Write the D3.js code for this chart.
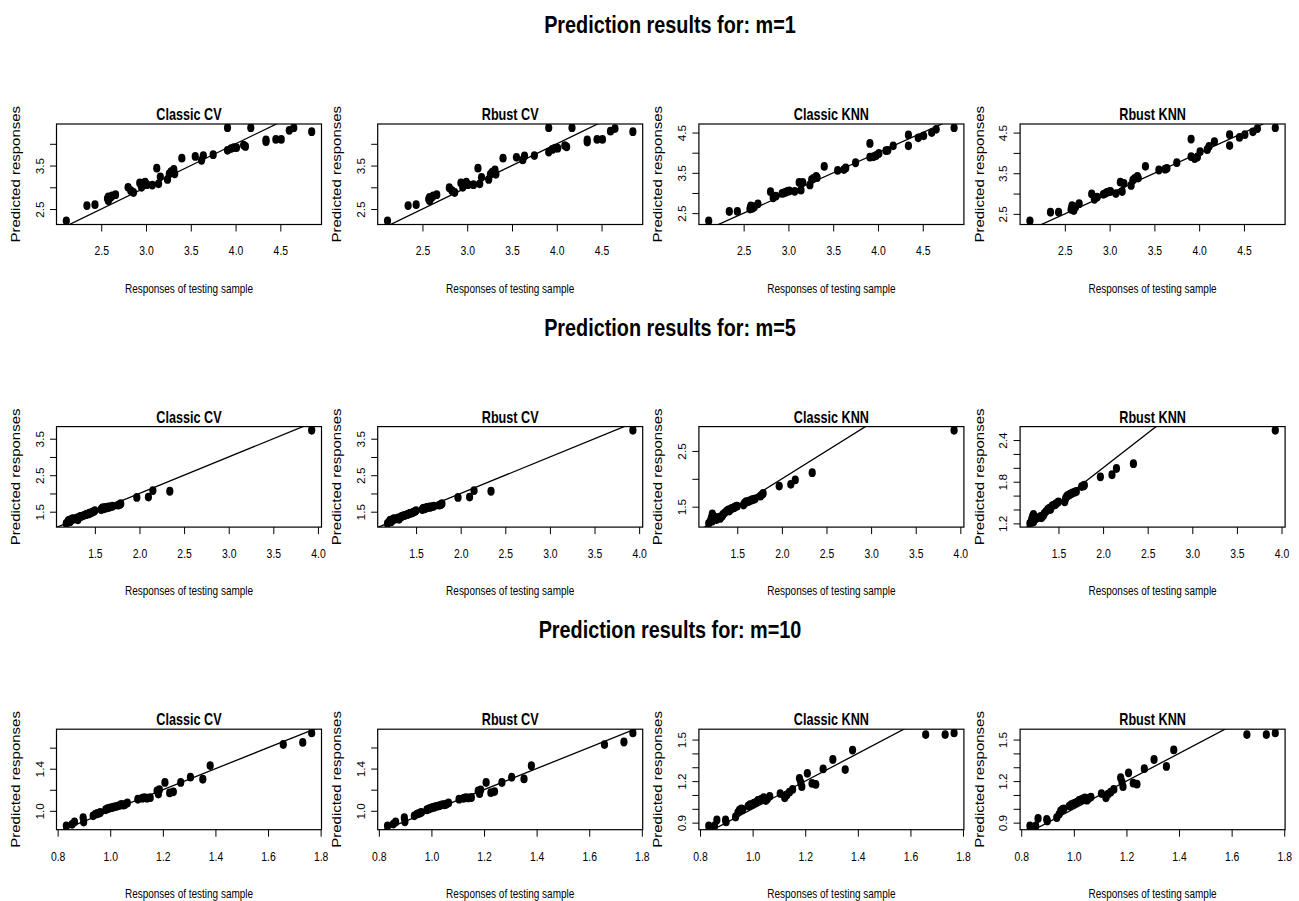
<!DOCTYPE html>
<html><head><meta charset="utf-8">
<script src="https://cdnjs.cloudflare.com/ajax/libs/d3/7.8.5/d3.min.js"></script>
<style>body{margin:0;background:#fff}svg{display:block}</style>
</head><body>
<svg id="c" width="1299" height="901"></svg>
<script>
// ---------- data ----------
const rowTitles = ["Prediction results for: m=1", "Prediction results for: m=5", "Prediction results for: m=10"];
const methods = ["Classic CV", "Rbust CV", "Classic KNN", "Rbust KNN"];
const xLabel = "Responses of testing sample";
const yLabel = "Predicted responses";

// m = 1
const m1_test = [2.11,2.34,2.43,2.57,2.58,2.58,2.60,2.62,2.66,2.80,2.83,2.86,2.93,2.95,2.97,2.99,3.01,3.07,3.12,3.14,3.16,3.24,3.26,3.28,3.31,3.32,3.40,3.55,3.62,3.64,3.75,3.91,3.91,3.95,3.98,4.01,4.09,4.11,4.17,4.34,4.34,4.45,4.51,4.60,4.65,4.85];
const m1_classicCV = [2.23,2.58,2.60,2.74,2.69,2.78,2.76,2.80,2.83,3.00,2.92,2.88,3.10,3.00,3.08,3.12,3.06,3.05,3.44,3.08,3.24,3.18,3.31,3.36,3.41,3.31,3.67,3.71,3.62,3.73,3.75,4.37,3.85,3.89,3.91,3.91,3.97,3.94,4.37,4.09,4.05,4.10,4.10,4.31,4.37,4.28];
const m1_robustCV = [2.23,2.58,2.60,2.73,2.69,2.77,2.76,2.80,2.83,2.99,2.92,2.88,3.10,3.00,3.08,3.12,3.06,3.06,3.44,3.08,3.23,3.18,3.30,3.35,3.40,3.30,3.67,3.69,3.63,3.72,3.73,4.37,3.81,3.87,3.90,3.90,3.96,3.93,4.37,4.09,4.04,4.10,4.10,4.29,4.35,4.28];
const m1_classicKNN = [2.31,2.54,2.54,2.60,2.65,2.68,2.62,2.66,2.73,3.03,2.88,2.92,2.99,3.00,3.02,3.04,3.05,3.04,3.26,3.07,3.26,3.20,3.33,3.36,3.41,3.38,3.66,3.56,3.58,3.62,3.75,4.23,3.89,3.90,3.93,3.98,4.05,4.06,4.17,4.44,4.17,4.37,4.42,4.50,4.58,4.62];
const m1_robustKNN = [2.33,2.54,2.54,2.61,2.66,2.70,2.58,2.67,2.75,2.99,2.86,2.91,2.98,3.00,3.03,3.04,3.05,3.00,3.28,3.05,3.25,3.20,3.33,3.37,3.42,3.38,3.67,3.58,3.60,3.62,3.76,4.34,3.91,3.86,3.90,4.03,4.08,4.16,4.28,4.45,4.18,4.38,4.45,4.52,4.60,4.62];

// m = 5
const m5_test = [1.18,1.20,1.21,1.22,1.22,1.23,1.24,1.25,1.27,1.30,1.31,1.33,1.34,1.36,1.38,1.40,1.41,1.43,1.44,1.46,1.47,1.49,1.50,1.57,1.58,1.59,1.60,1.62,1.63,1.65,1.66,1.68,1.70,1.76,1.78,1.79,1.97,2.10,2.15,2.34,3.93];
const m5_classicCV = [1.18,1.24,1.27,1.22,1.26,1.25,1.29,1.31,1.30,1.33,1.28,1.36,1.37,1.38,1.40,1.42,1.43,1.44,1.46,1.47,1.49,1.51,1.53,1.56,1.59,1.61,1.58,1.62,1.60,1.63,1.62,1.64,1.65,1.68,1.70,1.72,1.89,1.90,2.08,2.06,3.73];
const m5_robustCV = [1.18,1.23,1.27,1.22,1.26,1.25,1.28,1.31,1.30,1.33,1.29,1.36,1.37,1.39,1.40,1.42,1.43,1.45,1.46,1.47,1.49,1.51,1.53,1.56,1.59,1.60,1.58,1.62,1.61,1.63,1.62,1.64,1.65,1.68,1.70,1.72,1.89,1.90,2.08,2.06,3.73];
const m5_classicKNN = [1.20,1.25,1.30,1.37,1.24,1.33,1.28,1.31,1.27,1.31,1.29,1.33,1.36,1.39,1.42,1.44,1.42,1.46,1.47,1.48,1.49,1.51,1.51,1.53,1.56,1.57,1.59,1.59,1.60,1.61,1.62,1.63,1.64,1.69,1.72,1.74,1.87,1.90,1.98,2.11,2.87];
const m5_robustKNN = [1.20,1.26,1.30,1.33,1.22,1.29,1.26,1.28,1.28,1.30,1.28,1.31,1.34,1.37,1.40,1.42,1.40,1.45,1.46,1.47,1.48,1.50,1.51,1.51,1.56,1.58,1.60,1.61,1.62,1.63,1.64,1.65,1.66,1.73,1.74,1.75,1.87,1.90,1.99,2.06,2.54];

// m = 10
const m10_test = [0.833,0.855,0.864,0.897,0.899,0.935,0.944,0.950,0.957,0.962,0.983,0.990,0.997,1.005,1.012,1.020,1.028,1.035,1.042,1.050,1.056,1.065,1.105,1.122,1.130,1.140,1.152,1.178,1.183,1.187,1.208,1.226,1.240,1.268,1.305,1.352,1.380,1.658,1.732,1.766];
const m10_classicCV = [0.856,0.872,0.894,0.936,0.894,0.952,0.968,0.972,0.977,0.984,1.010,1.020,1.025,1.030,1.035,1.040,1.045,1.050,1.060,1.055,1.060,1.075,1.110,1.120,1.125,1.120,1.125,1.190,1.160,1.200,1.270,1.170,1.180,1.270,1.320,1.300,1.430,1.630,1.650,1.740];
const m10_robustCV = [0.856,0.874,0.894,0.934,0.896,0.952,0.966,0.973,0.979,0.985,1.010,1.018,1.025,1.032,1.036,1.041,1.046,1.052,1.058,1.056,1.062,1.074,1.110,1.118,1.124,1.122,1.126,1.188,1.162,1.198,1.268,1.172,1.182,1.268,1.318,1.302,1.428,1.628,1.652,1.738];
const m10_classicKNN = [0.876,0.876,0.919,0.920,0.905,0.941,0.973,0.990,1.000,0.995,1.020,1.030,1.030,1.040,1.045,1.060,1.065,1.070,1.080,1.060,1.070,1.090,1.110,1.080,1.100,1.120,1.140,1.220,1.190,1.160,1.256,1.183,1.176,1.288,1.356,1.283,1.424,1.536,1.536,1.548];
const m10_robustKNN = [0.876,0.876,0.930,0.924,0.912,0.936,0.960,0.985,0.995,1.000,1.020,1.030,1.035,1.040,1.048,1.060,1.066,1.072,1.078,1.062,1.075,1.085,1.110,1.080,1.105,1.120,1.140,1.225,1.195,1.160,1.260,1.185,1.178,1.290,1.356,1.306,1.425,1.536,1.536,1.548];

// tick values
const m1_xTicks = [2.5,3.0,3.5,4.0,4.5];
const m5_xTicks = [1.5,2.0,2.5,3.0,3.5,4.0];
const m10_xTicks = [0.8,1.0,1.2,1.4,1.6,1.8];
const m1_cvYTicks = [2.5,3.0,3.5,4.0],  m1_cvYLabels = [2.5,3.5];
const m1_knnYTicks = [2.5,3.0,3.5,4.0,4.5], m1_knnYLabels = [2.5,3.5,4.5];
const m5_cvYTicks = [1.5,2.0,2.5,3.0,3.5], m5_cvYLabels = [1.5,2.5,3.5];
const m5_knnYTicks = [1.5,2.0,2.5], m5_knnYLabels = [1.5,2.5];
const m5_rknnYTicks = [1.2,1.4,1.6,1.8,2.0,2.2,2.4], m5_rknnYLabels = [1.2,1.8,2.4];
const m10_cvYTicks = [1.0,1.2,1.4,1.6], m10_cvYLabels = [1.0,1.4];
const m10_knnYTicks = [0.9,1.0,1.1,1.2,1.3,1.4,1.5], m10_knnYLabels = [0.9,1.2,1.5];

const rows = [
  { title: rowTitles[0], test: m1_test, preds: [m1_classicCV, m1_robustCV, m1_classicKNN, m1_robustKNN], xTicks: m1_xTicks,
    yTicks: [m1_cvYTicks, m1_cvYTicks, m1_knnYTicks, m1_knnYTicks], yLabels: [m1_cvYLabels, m1_cvYLabels, m1_knnYLabels, m1_knnYLabels] },
  { title: rowTitles[1], test: m5_test, preds: [m5_classicCV, m5_robustCV, m5_classicKNN, m5_robustKNN], xTicks: m5_xTicks,
    yTicks: [m5_cvYTicks, m5_cvYTicks, m5_knnYTicks, m5_rknnYTicks], yLabels: [m5_cvYLabels, m5_cvYLabels, m5_knnYLabels, m5_rknnYLabels] },
  { title: rowTitles[2], test: m10_test, preds: [m10_classicCV, m10_robustCV, m10_classicKNN, m10_robustKNN], xTicks: m10_xTicks,
    yTicks: [m10_cvYTicks, m10_cvYTicks, m10_knnYTicks, m10_knnYTicks], yLabels: [m10_cvYLabels, m10_cvYLabels, m10_knnYLabels, m10_knnYLabels] }
];

// ---------- drawing ----------
const FONT = "'Liberation Sans', Arial, Helvetica, sans-serif";
const SX = 0.8;
const L0 = 56.5, colStep = 321.2, W = 265;
const T0 = 124, rowStep = 302.6, H = 100.5;
const fmt = d3.format(".1f");
const svg = d3.select("#c");
const defs = svg.append("defs");

function pad(ext) { const r = ext[1] - ext[0]; return [ext[0] - 0.04 * r, ext[1] + 0.04 * r]; }

function hText(g, x, y, str, size, weight) {
  return g.append("text")
    .attr("transform", `translate(${x},${y}) scale(${SX},1)`)
    .attr("text-anchor", "middle")
    .attr("font-family", FONT)
    .attr("font-size", size)
    .attr("font-weight", weight || "normal")
    .attr("fill", "#000")
    .text(str);
}

rows.forEach((row, r) => {
  const T = T0 + r * rowStep;
  hText(svg, 670, 33 + r * rowStep, row.title, 24.8, "bold");

  methods.forEach((m, c) => {
    const L = L0 + c * colStep;
    const pred = row.preds[c];
    const x = d3.scaleLinear().domain(pad(d3.extent(row.test))).range([L, L + W]);
    const y = d3.scaleLinear().domain(pad(d3.extent(pred))).range([T + H, T]);
    const g = svg.append("g");
    const cid = `clip-${r}-${c}`;
    defs.append("clipPath").attr("id", cid).append("rect")
      .attr("x", L).attr("y", T).attr("width", W).attr("height", H);
    const plot = g.append("g").attr("clip-path", `url(#${cid})`);

    // points
    plot.selectAll("ellipse").data(row.test.map((v, i) => [v, pred[i]])).enter()
      .append("ellipse")
      .attr("cx", d => x(d[0])).attr("cy", d => y(d[1]))
      .attr("rx", 3.6).attr("ry", 4.4).attr("fill", "#000");

    // y = x reference line
    const lo = Math.min(x.domain()[0], y.domain()[0]);
    const hi = Math.max(x.domain()[1], y.domain()[1]);
    plot.append("line")
      .attr("x1", x(lo)).attr("y1", y(lo)).attr("x2", x(hi)).attr("y2", y(hi))
      .attr("stroke", "#000").attr("stroke-width", 1.3);

    // box
    g.append("rect").attr("x", L).attr("y", T).attr("width", W).attr("height", H)
      .attr("fill", "none").attr("stroke", "#000").attr("stroke-width", 1.2);

    // x axis
    const xa = g.append("g").attr("transform", `translate(0,${T + H})`)
      .call(d3.axisBottom(x).tickValues(row.xTicks).tickFormat(fmt).tickSize(7).tickSizeOuter(0));
    xa.select(".domain").remove();
    xa.selectAll(".tick line").attr("stroke", "#000").attr("stroke-width", 1);
    xa.selectAll(".tick text").attr("y", 31).attr("dy", null)
      .attr("transform", `scale(${SX},1)`)
      .attr("font-family", FONT).attr("font-size", 13).attr("fill", "#000");

    // y axis
    const labs = row.yLabels[c];
    const ya = g.append("g").attr("transform", `translate(${L},0)`)
      .call(d3.axisLeft(y).tickValues(row.yTicks[c]).tickFormat(d => labs.some(v => Math.abs(v - d) < 1e-9) ? fmt(d) : "").tickSize(6.5).tickSizeOuter(0));
    ya.select(".domain").remove();
    ya.selectAll(".tick line").attr("stroke", "#000").attr("stroke-width", 1);
    ya.selectAll(".tick text").attr("x", null).attr("dy", null)
      .attr("text-anchor", "middle")
      .attr("transform", "translate(-13,0) rotate(-90)")
      .attr("font-family", FONT).attr("font-size", 11.8).attr("fill", "#000");

    // panel title
    hText(g, L + W / 2, T - 4, m, 15.8, "bold");
    // x label
    hText(g, L + W / 2, T + H + 68, xLabel, 12.5, "normal");
    // y label
    g.append("text")
      .attr("transform", `translate(${L - 36.5},${T + H / 2}) scale(0.8,1) rotate(-90)`)
      .attr("text-anchor", "middle")
      .attr("font-family", FONT).attr("font-size", 15).attr("fill", "#000")
      .text(yLabel);
  });
});
</script>
</body></html>
